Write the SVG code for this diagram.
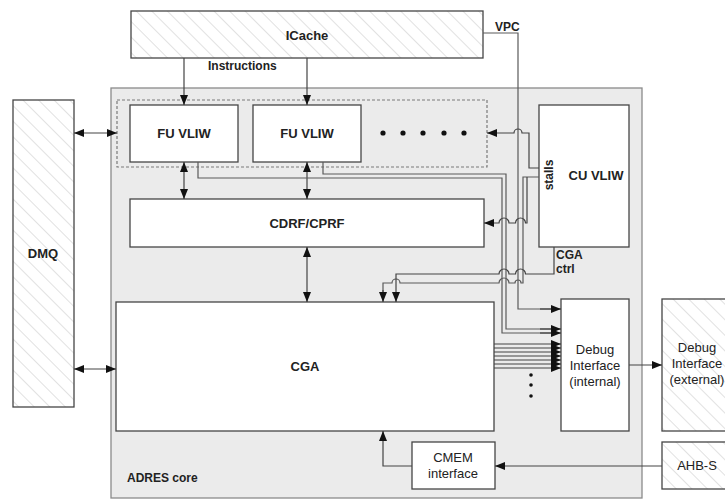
<svg xmlns="http://www.w3.org/2000/svg" width="725" height="501" viewBox="0 0 725 501">
<defs>
<pattern id="hatch" patternUnits="userSpaceOnUse" width="11" height="11" patternTransform="rotate(-45)">
<rect width="11" height="11" fill="#fff"/>
<line x1="0" y1="0" x2="0" y2="11" stroke="#d2d2d2" stroke-width="1.3"/>
</pattern>
<marker id="ah" viewBox="0 0 10 8" refX="10" refY="4" markerWidth="10" markerHeight="8" markerUnits="userSpaceOnUse" orient="auto-start-reverse">
<path d="M0,0 L10,4 L0,8 z" fill="#111"/>
</marker>
</defs>
<style>
.box{fill:#fff;stroke:#454545;stroke-width:1.3}
.hbox{fill:url(#hatch);stroke:#454545;stroke-width:1.3}
.t{font-family:"Liberation Sans",Arial,sans-serif;font-size:13px;font-weight:bold;fill:#222;text-anchor:middle}
.n{font-family:"Liberation Sans",Arial,sans-serif;font-size:13px;fill:#222;text-anchor:middle}
.s{font-family:"Liberation Sans",Arial,sans-serif;font-size:12px;font-weight:bold;fill:#222}
.w{fill:none;stroke:#5a5a5a;stroke-width:1.2}
.a{fill:none;stroke:#444;stroke-width:1.2;marker-end:url(#ah)}
.b{fill:none;stroke:#444;stroke-width:1.2;marker-start:url(#ah);marker-end:url(#ah)}
</style>

<g id="adres-core">
<rect x="111" y="88" width="531" height="410" fill="#ebebeb" stroke="#8a8a8a" stroke-width="1.3"/>
<text class="s" x="127" y="482" font-size="12.5">ADRES core</text>
</g>

<g id="icache">
<rect class="hbox" x="131" y="11" width="352" height="47"/>
<text class="t" x="307" y="40">ICache</text>
</g>

<g id="dmq">
<rect class="hbox" x="13" y="100" width="61" height="307"/>
<text class="t" x="43" y="258">DMQ</text>
</g>

<g id="vliw-group">
<rect x="117" y="100" width="370" height="67" fill="none" stroke="#7a7a7a" stroke-width="1.2" stroke-dasharray="3,2"/>
<circle cx="383" cy="133" r="2.6" fill="#111"/>
<circle cx="403" cy="133" r="2.6" fill="#111"/>
<circle cx="423" cy="133" r="2.6" fill="#111"/>
<circle cx="444" cy="133" r="2.6" fill="#111"/>
<circle cx="464" cy="133" r="2.6" fill="#111"/>
</g>

<g id="fu-vliw-1">
<rect class="box" x="130" y="105" width="108" height="57"/>
<text class="t" x="184" y="138">FU VLIW</text>
</g>

<g id="fu-vliw-2">
<rect class="box" x="253" y="105" width="108" height="57"/>
<text class="t" x="307" y="138">FU VLIW</text>
</g>

<g id="cdrf">
<rect class="box" x="130" y="199" width="354" height="48"/>
<text class="t" x="307" y="228">CDRF/CPRF</text>
</g>

<g id="cu-vliw">
<rect class="box" x="539" y="105" width="90" height="142"/>
<text class="t" x="596" y="180">CU VLIW</text>
</g>

<g id="cga">
<rect class="box" x="116" y="302" width="378" height="129"/>
<text class="t" x="305" y="371">CGA</text>
</g>

<g id="debug-internal">
<rect class="box" x="561" y="299" width="68" height="132"/>
<text class="n" x="595" y="354">Debug</text>
<text class="n" x="595" y="370">Interface</text>
<text class="n" x="595" y="386">(internal)</text>
</g>

<g id="debug-external">
<rect class="hbox" x="662" y="299" width="70" height="132"/>
<text class="n" x="697" y="352">Debug</text>
<text class="n" x="697" y="368">Interface</text>
<text class="n" x="697" y="384">(external)</text>
</g>

<g id="ahb-s">
<rect class="hbox" x="662" y="442" width="70" height="47"/>
<text class="n" x="697" y="470">AHB-S</text>
</g>

<g id="cmem">
<rect class="box" x="412" y="442" width="83" height="47"/>
<text class="n" x="453" y="462">CMEM</text>
<text class="n" x="453" y="478">interface</text>
</g>

<g id="connectors">
<path class="a" d="M184,58 V105"/>
<path class="a" d="M307,58 V105"/>
<text class="s" x="208" y="70">Instructions</text>
<path class="b" d="M74,133 H117"/>
<path class="b" d="M74,369 H116"/>
<path class="b" d="M184,162 V199"/>
<path class="b" d="M307,162 V199"/>
<path class="b" d="M307,247 V302"/>
<path class="w" d="M483,33 H518 V309 H555"/>
<path class="a" d="M540,309 H561"/>
<text class="s" x="495" y="31">VPC</text>
<path class="w" d="M323,162 V174 H506 V329 H555"/>
<path class="a" d="M540,329 H561"/>
<path class="w" d="M198,162 V178 H502 V333 H555"/>
<path class="a" d="M540,333 H561"/>
<path class="a" d="M539,168 H529 V133 H522 A4,4 0 0 0 514,133 H487"/>
<path class="w" d="M539,177 H523 V283 H521 A3,3 0 0 0 515,283 H509 A5,5 0 0 0 499,283 H400 A4,4 0 0 0 392,283 H383 V295"/>
<path class="a" d="M383,290 V302"/>
<path class="a" d="M527,177 V223 H525.5 A5,5 0 0 0 515.5,223 H509 A5,5 0 0 0 499,223 H484"/>
<text class="s" transform="translate(549,175) rotate(-90)" text-anchor="middle" dominant-baseline="central">stalls</text>
<path class="a" d="M554,247 V274 H525.5 A5,5 0 0 0 515.5,274 H509 A5,5 0 0 0 499,274 H396 V302"/>
<text class="s" x="556" y="259" font-size="11.5">CGA</text>
<text class="s" x="556" y="273" font-size="11.5">ctrl</text>
<path class="a" d="M494,344 H561"/>
<path class="a" d="M494,348 H561"/>
<path class="a" d="M494,352 H561"/>
<path class="a" d="M494,356 H561"/>
<path class="a" d="M494,360 H561"/>
<path class="a" d="M494,364 H561"/>
<path class="a" d="M494,368 H561"/>
<circle cx="531" cy="375" r="1.8" fill="#111"/>
<circle cx="531" cy="385" r="1.8" fill="#111"/>
<circle cx="531" cy="396" r="1.8" fill="#111"/>
<path class="a" d="M629,365 H662"/>
<path class="a" d="M662,466 H495"/>
<path class="a" d="M412,466 H383 V431"/>
</g>
</svg>
